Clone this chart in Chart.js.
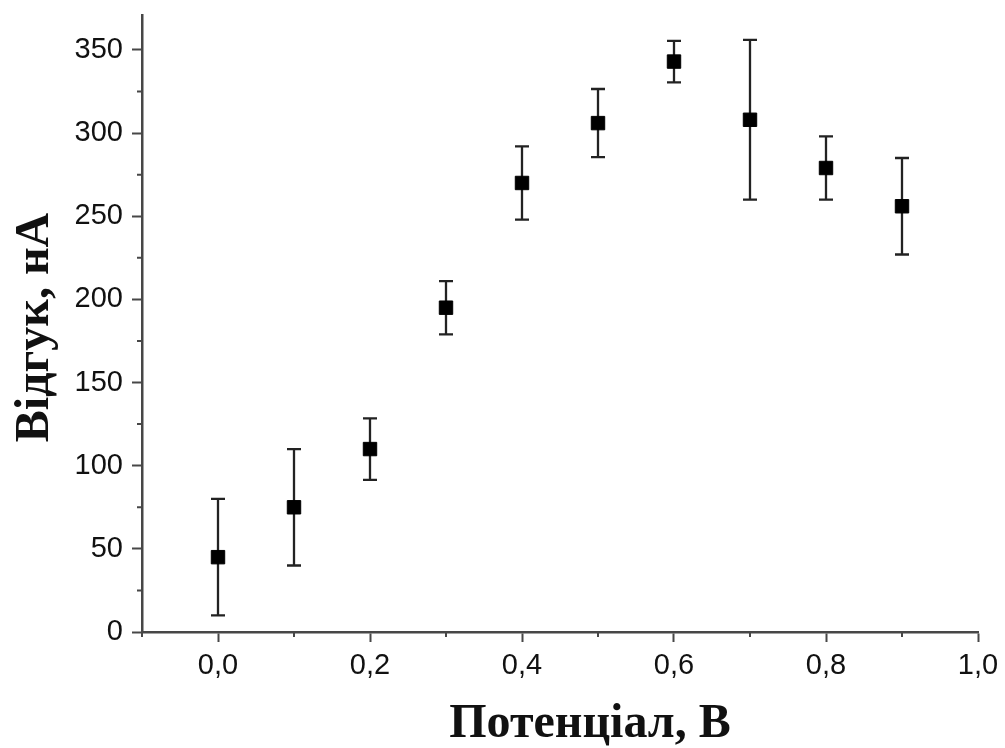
<!DOCTYPE html>
<html>
<head>
<meta charset="utf-8">
<script src="https://cdn.jsdelivr.net/npm/chart.js@4"></script>
<style>
  body { margin: 0; background: #fff; }
  #wrap { width: 1005px; height: 748px; position: relative; }
</style>
</head>
<body>
<div id="wrap"><canvas id="potChart"></canvas></div>
<script>
// potential, V
const potential = [0.0, 0.1, 0.2, 0.3, 0.4, 0.5, 0.6, 0.7, 0.8, 0.9];
// response, nA
const response = [45, 75, 110, 195, 270, 306, 343, 308, 279, 256];
// error (+/-), nA
const responseErr = [35, 35, 18.5, 16, 22, 20.5, 12.5, 48, 19, 29];

const xTicks = [0.0, 0.2, 0.4, 0.6, 0.8, 1.0];
const xTickLabels = ["0,0", "0,2", "0,4", "0,6", "0,8", "1,0"];
const yTicks = [0, 50, 100, 150, 200, 250, 300, 350];
const yTickLabels = ["0", "50", "100", "150", "200", "250", "300", "350"];

const xTitle = "Потенціал, В";
const yTitle = "Відгук, нА";

const axisColor = "#474747";

// error bars, drawn under the square markers
const errorBars = {
  id: "errorBars",
  beforeDatasetsDraw(chart) {
    const ctx = chart.ctx;
    const xs = chart.scales.x, ys = chart.scales.y;
    ctx.save();
    ctx.strokeStyle = "#222";
    ctx.lineWidth = 2.3;
    for (let i = 0; i < potential.length; i++) {
      const px = xs.getPixelForValue(potential[i]);
      const top = ys.getPixelForValue(response[i] + responseErr[i]);
      const bot = ys.getPixelForValue(response[i] - responseErr[i]);
      ctx.beginPath();
      ctx.moveTo(px, top); ctx.lineTo(px, bot);
      ctx.moveTo(px - 7, top); ctx.lineTo(px + 7, top);
      ctx.moveTo(px - 7, bot); ctx.lineTo(px + 7, bot);
      ctx.stroke();
    }
    ctx.restore();
  }
};

// minor ticks and axis titles
const extras = {
  id: "extras",
  afterDraw(chart) {
    const ctx = chart.ctx;
    const xs = chart.scales.x, ys = chart.scales.y;
    const area = chart.chartArea;
    ctx.save();
    ctx.strokeStyle = axisColor;
    ctx.lineWidth = 2;
    ctx.beginPath();
    for (let i = 0; i < yTicks.length; i++) {
      const v = yTicks[i] + 25;
      if (v > ys.max) break;
      const py = ys.getPixelForValue(v);
      ctx.moveTo(area.left, py); ctx.lineTo(area.left - 5, py);
    }
    for (let v = xTicks[0] - 0.1; v < xs.max; v += 0.2) {
      const px = xs.getPixelForValue(v);
      ctx.moveTo(px, area.bottom); ctx.lineTo(px, area.bottom + 5);
    }
    ctx.stroke();

    ctx.fillStyle = "#111";
    ctx.font = "bold 48px 'Liberation Serif', 'Times New Roman', serif";
    ctx.textAlign = "center";
    ctx.textBaseline = "middle";
    ctx.fillText(xTitle, (area.left + area.right) / 2 + 30, 725);

    ctx.translate(36, (area.top + area.bottom) / 2 + 4);
    ctx.rotate(-Math.PI / 2);
    ctx.fillText(yTitle, 0, 0);
    ctx.restore();
  }
};

new Chart(document.getElementById("potChart"), {
  type: "scatter",
  data: {
    datasets: [{
      label: yTitle,
      data: potential.map((x, i) => ({ x, y: response[i] })),
      pointStyle: "rect",
      pointRadius: 9.5,
      pointHoverRadius: 9.5,
      backgroundColor: "#000",
      borderColor: "#000",
      borderWidth: 1
    }]
  },
  options: {
    responsive: true,
    maintainAspectRatio: false,
    animation: false,
    layout: { padding: { top: 15, right: 27, left: 0, bottom: 0 } },
    plugins: {
      legend: { display: false },
      tooltip: { enabled: false }
    },
    scales: {
      x: {
        type: "linear",
        min: -0.1,
        max: 1.0,
        afterFit(scale) { scale.height = 116; scale.paddingLeft = 0; scale.paddingRight = 0; },
        afterBuildTicks(scale) { scale.ticks = xTicks.map(v => ({ value: v })); },
        border: { display: true, color: axisColor, width: 2.5 },
        grid: { drawOnChartArea: false, drawTicks: true, tickLength: 10, tickWidth: 2, tickColor: axisColor },
        ticks: {
          padding: 7,
          color: "#111",
          maxRotation: 0,
          font: { family: "'Liberation Sans', Arial, sans-serif", size: 29 },
          callback: (v, i) => xTickLabels[i]
        }
      },
      y: {
        type: "linear",
        min: 0,
        max: 371,
        afterFit(scale) { scale.width = 142; scale.paddingTop = 0; scale.paddingBottom = 0; },
        afterBuildTicks(scale) { scale.ticks = yTicks.map(v => ({ value: v })); },
        border: { display: true, color: axisColor, width: 2.5 },
        grid: { drawOnChartArea: false, drawTicks: true, tickLength: 10, tickWidth: 2, tickColor: axisColor },
        ticks: {
          padding: 9,
          color: "#111",
          font: { family: "'Liberation Sans', Arial, sans-serif", size: 29 },
          callback: (v, i) => yTickLabels[i]
        }
      }
    }
  },
  plugins: [errorBars, extras]
});
</script>
</body>
</html>
